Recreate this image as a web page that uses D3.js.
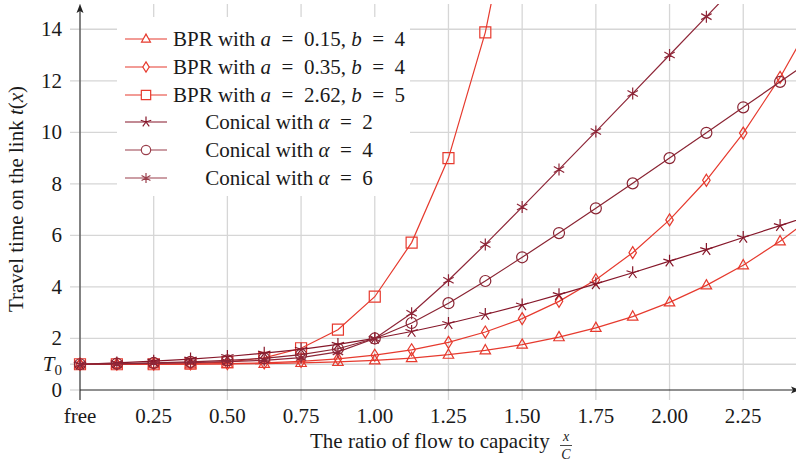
<!DOCTYPE html>
<html><head><meta charset="utf-8">
<script src="https://cdn.jsdelivr.net/npm/d3@7"></script>
<style>
body{margin:0;background:#fff}
svg{display:block}
text{font-family:"Liberation Serif","Times New Roman",serif;fill:#1a1a1a}
</style>
</head><body><svg id="chart" width="796" height="466"></svg>
<script>
// ---- data ----
const xRatios = [0, 0.125, 0.25, 0.375, 0.5, 0.625, 0.75, 0.875, 1.0, 1.125, 1.25, 1.375, 1.5,
                 1.625, 1.75, 1.875, 2.0, 2.125, 2.25, 2.375, 2.5];
const bprA015 = [1.00, 1.00, 1.00, 1.00, 1.01, 1.02, 1.05, 1.09, 1.15, 1.24, 1.37, 1.54, 1.76,
                 2.05, 2.41, 2.85, 3.40, 4.06, 4.84, 5.77, 6.86];
const bprA035 = [1.00, 1.00, 1.00, 1.01, 1.02, 1.05, 1.11, 1.21, 1.35, 1.56, 1.85, 2.25, 2.77,
                 3.44, 4.28, 5.33, 6.60, 8.14, 9.97, 12.13, 14.67];
const bprA262 = [1.00, 1.00, 1.00, 1.02, 1.08, 1.25, 1.62, 2.34, 3.62, 5.72, 9.00, 13.88, 20.90];
const conical2 = [1.00, 1.05, 1.12, 1.20, 1.30, 1.43, 1.58, 1.77, 2.00, 2.27, 2.58, 2.93, 3.30,
                  3.70, 4.12, 4.55, 5.00, 5.45, 5.92, 6.38, 6.85];
const conical4 = [1.00, 1.02, 1.05, 1.09, 1.15, 1.23, 1.37, 1.60, 2.00, 2.60, 3.37, 4.23, 5.15,
                  6.09, 7.05, 8.02, 9.00, 9.98, 10.97, 11.96, 12.95];
const conical6 = [1.00, 1.01, 1.03, 1.06, 1.10, 1.15, 1.26, 1.48, 2.00, 2.98, 4.26, 5.65, 7.10,
                  8.56, 10.03, 11.51, 13.00, 14.49, 15.98];
const xTicks = [0, 0.25, 0.5, 0.75, 1.0, 1.25, 1.5, 1.75, 2.0, 2.25];
const xTickLabels = ["free", "0.25", "0.50", "0.75", "1.00", "1.25", "1.50", "1.75", "2.00", "2.25"];
const yTicks = [0, 1, 2, 4, 6, 8, 10, 12, 14];
const yTickLabels = ["0", "T0", "2", "4", "6", "8", "10", "12", "14"];

const seriesValues = [bprA015, bprA035, bprA262, conical2, conical4, conical6];
const seriesMarkers = ["triangle", "diamond", "square", "star", "circle", "asterisk"];
const seriesColors = ["#e63a2e", "#e63a2e", "#e63a2e", "#86172a", "#8a2433", "#8e2638"];
const legendColors = ["#e63a2e", "#e63a2e", "#e63a2e", "#86172a", "#9a3f4c", "#9a3f4c"];
const EQ = "\u2002=\u2002";
const legendLabels = [
  [["BPR with ", 0], ["a", 1], [EQ + "0.15, ", 0], ["b", 1], [EQ + "4", 0]],
  [["BPR with ", 0], ["a", 1], [EQ + "0.35, ", 0], ["b", 1], [EQ + "4", 0]],
  [["BPR with ", 0], ["a", 1], [EQ + "2.62, ", 0], ["b", 1], [EQ + "5", 0]],
  [["Conical with ", 0], ["α", 1], [EQ + "2", 0]],
  [["Conical with ", 0], ["α", 1], [EQ + "4", 0]],
  [["Conical with ", 0], ["α", 1], [EQ + "6", 0]]
];

// ---- layout ----
const svg = d3.select("#chart");
const X0 = 80, X1 = 796, Y0 = 390, YTOP = 4;
const x = d3.scaleLinear().domain([0, 2.429]).range([X0, X1]);
const y = d3.scaleLinear().domain([0, 14.98]).range([Y0, YTOP]);
const gridColor = "#d6d6d6";

// grid
const g = svg.append("g");
g.selectAll("line.vg").data(xTicks).join("line")
  .attr("x1", d => x(d)).attr("x2", d => x(d))
  .attr("y1", YTOP).attr("y2", Y0 + 10)
  .attr("stroke", gridColor).attr("stroke-width", 1.3);
g.selectAll("line.hg").data(yTicks.filter(d => d > 0)).join("line")
  .attr("x1", X0 - 10).attr("x2", X1)
  .attr("y1", d => y(d)).attr("y2", d => y(d))
  .attr("stroke", gridColor).attr("stroke-width", 1.3);
g.append("line").attr("x1", X0 - 10).attr("x2", X0).attr("y1", y(0)).attr("y2", y(0))
  .attr("stroke", gridColor).attr("stroke-width", 1.3);

// axes
const axisColor = "#222";
svg.append("line").attr("x1", X0).attr("x2", X0).attr("y1", Y0 + 10).attr("y2", YTOP + 4)
  .attr("stroke", axisColor).attr("stroke-width", 1);
svg.append("line").attr("x1", X0).attr("x2", X1).attr("y1", Y0).attr("y2", Y0)
  .attr("stroke", axisColor).attr("stroke-width", 1);
svg.append("path").attr("d", `M${X0},${YTOP} L${X0 + 3.5},${YTOP + 9} L${X0},${YTOP + 7} L${X0 - 3.5},${YTOP + 9} Z`)
  .attr("fill", axisColor);
svg.append("path").attr("d", `M${X1 + 4},${Y0} L${X1 - 5},${Y0 - 3.5} L${X1 - 3},${Y0} L${X1 - 5},${Y0 + 3.5} Z`)
  .attr("fill", axisColor);

// tick labels
const tickFont = 21;
svg.selectAll("text.xt").data(xTicks).join("text")
  .attr("x", d => x(d)).attr("y", 423)
  .attr("text-anchor", "middle").attr("font-size", tickFont)
  .text((d, i) => xTickLabels[i]);
yTicks.forEach((d, i) => {
  const lab = yTickLabels[i];
  const t = svg.append("text").attr("x", 62).attr("y", y(d) + 7)
    .attr("text-anchor", "end").attr("font-size", tickFont);
  if (lab === "T0") {
    t.append("tspan").attr("font-style", "italic").text("T");
    t.append("tspan").attr("font-size", 15).attr("dy", 4).text("0");
  } else t.text(lab);
});

// axis titles
svg.append("text").attr("transform", "translate(23,199) rotate(-90)")
  .attr("text-anchor", "middle").attr("font-size", 21)
  .call(t => {
    t.append("tspan").text("Travel time on the link ");
    t.append("tspan").attr("font-style", "italic").text("t");
    t.append("tspan").text("(");
    t.append("tspan").attr("font-style", "italic").text("x");
    t.append("tspan").text(")");
  });
svg.append("text").attr("x", 310).attr("y", 448).attr("font-size", 21)
  .text("The ratio of flow to capacity");
svg.append("text").attr("x", 566).attr("y", 441).attr("font-size", 14)
  .attr("font-style", "italic").attr("text-anchor", "middle").text("x");
svg.append("line").attr("x1", 560).attr("x2", 572).attr("y1", 445.5).attr("y2", 445.5)
  .attr("stroke", "#1a1a1a").attr("stroke-width", 0.8);
svg.append("text").attr("x", 566).attr("y", 459).attr("font-size", 14)
  .attr("font-style", "italic").attr("text-anchor", "middle").text("C");

// markers
function markerPath(type, r) {
  if (type === "triangle") {
    return `M0,${-r * 1.05} L${r * 0.95},${r * 0.65} L${-r * 0.95},${r * 0.65} Z`;
  }
  if (type === "diamond") {
    return `M0,${-r * 1.2} L${r * 0.75},0 L0,${r * 1.2} L${-r * 0.75},0 Z`;
  }
  if (type === "square") {
    return `M${-r},${-r} L${r},${-r} L${r},${r} L${-r},${r} Z`;
  }
  if (type === "circle") {
    return `M${r},0 A${r},${r} 0 1,1 ${-r},0 A${r},${r} 0 1,1 ${r},0 Z`;
  }
  if (type === "star") {
    let p = "";
    for (let k = 0; k < 5; k++) {
      const a = -Math.PI / 2 + k * 2 * Math.PI / 5;
      p += `M0,0 L${(r * Math.cos(a)).toFixed(2)},${(r * Math.sin(a)).toFixed(2)} `;
    }
    return p;
  }
  if (type === "asterisk") {
    let p = "";
    for (let k = 0; k < 6; k++) {
      const a = -Math.PI / 2 + k * Math.PI / 3;
      p += `M0,0 L${(r * Math.cos(a)).toFixed(2)},${(r * Math.sin(a)).toFixed(2)} `;
    }
    return p;
  }
}
const markerR = {triangle: 5.5, diamond: 5, square: 5.5, circle: 5.5, star: 6.5, asterisk: 6};

// clip
svg.append("clipPath").attr("id", "plotclip").append("rect")
  .attr("x", 0).attr("y", YTOP).attr("width", 796).attr("height", Y0 + 20 - YTOP);

const line = d3.line().x(d => x(d[0])).y(d => y(d[1]));
const plot = svg.append("g");
seriesValues.forEach((vals, si) => {
  const pts = vals.map((v, i) => [xRatios[i], v]);
  plot.append("path").attr("d", line(pts)).attr("fill", "none")
    .attr("stroke", seriesColors[si]).attr("stroke-width", 1.2)
    .attr("clip-path", "url(#plotclip)");
  const vis = pts.filter(p => p[0] <= 2.429 && p[1] <= 14.9);
  plot.selectAll(null).data(vis).join("path")
    .attr("transform", p => `translate(${x(p[0])},${y(p[1])})`)
    .attr("d", markerPath(seriesMarkers[si], markerR[seriesMarkers[si]]))
    .attr("fill", "none").attr("stroke", seriesColors[si]).attr("stroke-width", 1.2);
});

// legend
const lg = svg.append("g");
lg.append("rect").attr("x", 117).attr("y", 17).attr("width", 293).attr("height", 179)
  .attr("fill", "#fff");
const rowY = [39, 67, 95, 122, 150, 178];
legendLabels.forEach((parts, si) => {
  const yy = rowY[si];
  lg.append("line").attr("x1", 125).attr("x2", 167).attr("y1", yy).attr("y2", yy)
    .attr("stroke", legendColors[si]).attr("stroke-width", 1.2);
  lg.append("path").attr("transform", `translate(146,${yy})`)
    .attr("d", markerPath(seriesMarkers[si], markerR[seriesMarkers[si]] * 0.85))
    .attr("fill", "#fff").attr("stroke", legendColors[si]).attr("stroke-width", 1.2);
  const t = lg.append("text").attr("x", 289).attr("y", yy + 7)
    .attr("text-anchor", "middle").attr("font-size", 21).attr("xml:space", "preserve");
  parts.forEach(([s, it]) => {
    const sp = t.append("tspan").text(s);
    if (it) sp.attr("font-style", "italic");
  });
});
</script>
</body></html>
